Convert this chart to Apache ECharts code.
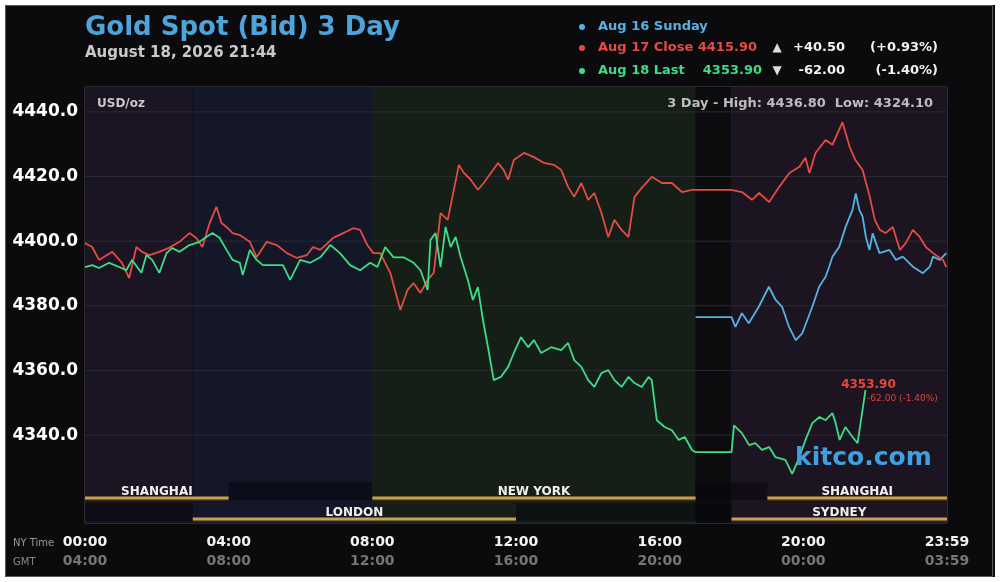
<!DOCTYPE html>
<html lang="en">
<head>
<meta charset="UTF-8">
<title>Gold Spot (Bid) 3 Day</title>
<script src="https://cdn.jsdelivr.net/npm/echarts@6.0.0/dist/echarts.min.js"></script>
<style>
  html, body { margin: 0; padding: 0; background: #fff; }
  #main { width: 1000px; height: 582px; }
</style>
</head>
<body>
<div id="main"></div>

<script type="text/javascript">
// axis ticks (hours, NY time)
var xTicks = [0, 4, 8, 12, 16, 20, 24];
var nyLabels = ['00:00', '04:00', '08:00', '12:00', '16:00', '20:00', '23:59'];
var gmtLabels = ['04:00', '08:00', '12:00', '16:00', '20:00', '00:00', '03:59'];
var yTicks = [4340, 4360, 4380, 4400, 4420, 4440];

// Aug 16 Sunday
var sunTimes = [17.00, 18.00, 18.11, 18.29, 18.48, 18.76, 19.04, 19.23, 19.41, 19.60,
  19.79, 19.97, 20.11, 20.25, 20.44, 20.62, 20.72, 20.81, 21.00, 21.18,
  21.37, 21.46, 21.56, 21.65, 21.74, 21.84, 21.93, 22.12, 22.40, 22.58,
  22.77, 23.05, 23.33, 23.52, 23.61, 23.80, 23.98];
var sunValues = [4376.5, 4376.5, 4373.5, 4377.7, 4374.6, 4379.7, 4385.9, 4381.8, 4379.7, 4373.5,
  4369.4, 4371.5, 4375.6, 4379.7, 4385.9, 4389.0, 4392.1, 4395.2, 4398.3, 4404.5,
  4409.7, 4414.8, 4409.7, 4407.6, 4401.4, 4397.3, 4402.4, 4396.3, 4397.3, 4394.2,
  4395.2, 4392.1, 4390.1, 4392.1, 4395.2, 4394.2, 4396.3];

// Aug 17
var closeTimes = [0.00, 0.20, 0.39, 0.76, 1.03, 1.23, 1.43, 1.59, 1.79, 2.07,
  2.35, 2.63, 2.91, 3.10, 3.27, 3.47, 3.66, 3.80, 3.94, 4.11,
  4.31, 4.59, 4.78, 5.06, 5.34, 5.62, 5.90, 6.18, 6.35, 6.55,
  6.91, 7.19, 7.47, 7.66, 7.86, 8.03, 8.22, 8.50, 8.78, 8.98,
  9.15, 9.34, 9.54, 9.71, 9.90, 10.10, 10.27, 10.41, 10.55, 10.74,
  10.94, 11.10, 11.30, 11.50, 11.66, 11.78, 11.94, 12.22, 12.50, 12.78,
  13.06, 13.26, 13.45, 13.62, 13.82, 14.01, 14.18, 14.38, 14.57, 14.74,
  14.94, 15.13, 15.30, 15.50, 15.78, 16.06, 16.34, 16.62, 16.90, 17.00,
  18.00, 18.29, 18.57, 18.77, 19.05, 19.33, 19.61, 19.89, 20.06, 20.17,
  20.34, 20.62, 20.81, 21.09, 21.29, 21.45, 21.65, 21.85, 21.99, 22.13,
  22.29, 22.49, 22.69, 22.85, 23.05, 23.24, 23.41, 23.61, 23.89, 23.98];
var closeValues = [4399.4, 4398.2, 4394.2, 4396.7, 4393.3, 4388.6, 4398.2, 4396.7, 4395.7, 4396.7,
  4398.0, 4399.8, 4402.5, 4401.0, 4398.2, 4405.6, 4410.6, 4405.6, 4404.4, 4402.5,
  4401.9, 4399.8, 4395.0, 4399.8, 4398.8, 4396.3, 4394.8, 4395.7, 4398.2, 4397.3,
  4401.0, 4402.5, 4404.0, 4403.5, 4398.8, 4396.3, 4396.3, 4390.2, 4378.7, 4384.9,
  4387.0, 4384.0, 4388.0, 4390.2, 4408.7, 4406.6, 4415.9, 4423.6, 4421.1, 4419.0,
  4415.9, 4418.0, 4421.1, 4424.2, 4422.0, 4419.0, 4425.1, 4427.3, 4426.0, 4424.2,
  4423.6, 4422.0, 4416.8, 4413.7, 4418.0, 4412.8, 4414.9, 4408.7, 4401.3, 4406.6,
  4403.5, 4401.3, 4413.7, 4416.5, 4419.9, 4418.0, 4418.0, 4415.2, 4415.9, 4415.9,
  4415.9, 4415.2, 4412.8, 4414.9, 4412.1, 4416.8, 4421.1, 4423.0, 4425.8, 4421.1,
  4427.3, 4431.3, 4429.8, 4436.8, 4429.2, 4425.1, 4422.0, 4413.7, 4406.6, 4403.5,
  4402.5, 4404.4, 4397.3, 4399.4, 4403.5, 4401.3, 4398.2, 4396.3, 4394.2, 4392.0];

// Aug 18 (last)
var lastTimes = [0.00, 0.20, 0.39, 0.67, 0.95, 1.15, 1.31, 1.57, 1.71, 1.87,
  2.07, 2.27, 2.43, 2.63, 2.91, 3.19, 3.38, 3.55, 3.75, 3.94,
  4.11, 4.31, 4.39, 4.59, 4.78, 4.95, 5.23, 5.51, 5.71, 5.99,
  6.27, 6.55, 6.83, 7.10, 7.38, 7.66, 7.94, 8.14, 8.36, 8.59,
  8.87, 9.15, 9.34, 9.54, 9.62, 9.76, 9.90, 10.04, 10.18, 10.32,
  10.46, 10.66, 10.80, 10.94, 11.08, 11.22, 11.38, 11.58, 11.78, 11.94,
  12.14, 12.34, 12.50, 12.70, 12.98, 13.26, 13.45, 13.62, 13.82, 14.01,
  14.18, 14.38, 14.57, 14.74, 14.94, 15.13, 15.30, 15.50, 15.69, 15.78,
  15.92, 16.14, 16.34, 16.53, 16.70, 16.90, 17.00, 18.00, 18.07, 18.29,
  18.49, 18.66, 18.85, 19.05, 19.22, 19.50, 19.69, 19.89, 20.06, 20.25,
  20.45, 20.62, 20.81, 20.90, 21.01, 21.17, 21.37, 21.51, 21.73];
var lastValues = [4392.0, 4392.6, 4391.7, 4393.3, 4392.0, 4391.0, 4394.2, 4390.2, 4395.7, 4394.2,
  4390.2, 4396.3, 4397.9, 4396.7, 4398.8, 4399.8, 4401.3, 4402.5, 4401.0, 4397.3,
  4394.2, 4393.3, 4389.5, 4397.3, 4394.2, 4392.6, 4392.6, 4392.6, 4388.0, 4394.2,
  4393.3, 4395.0, 4398.8, 4396.3, 4392.6, 4391.0, 4393.3, 4392.0, 4398.2, 4395.0,
  4395.0, 4393.3, 4391.0, 4384.9, 4400.4, 4402.5, 4392.0, 4404.4, 4398.2, 4401.3,
  4395.0, 4388.0, 4381.8, 4385.8, 4375.6, 4367.2, 4357.0, 4358.0, 4361.1, 4365.4,
  4370.3, 4367.2, 4369.4, 4365.4, 4367.2, 4366.3, 4368.5, 4363.2, 4361.1, 4357.0,
  4354.9, 4359.2, 4360.1, 4357.0, 4354.9, 4358.0, 4356.1, 4354.9, 4358.0, 4357.0,
  4344.6, 4342.5, 4341.5, 4338.5, 4339.4, 4335.4, 4334.7, 4334.7, 4343.0, 4340.6,
  4336.9, 4337.5, 4335.4, 4336.3, 4333.2, 4332.3, 4328.0, 4333.2, 4338.5, 4343.7,
  4345.6, 4344.6, 4346.8, 4343.7, 4338.5, 4342.5, 4339.4, 4337.5, 4353.9];

// trading sessions (hours NY time), row 0 = upper bar
var sessionNames = ['SHANGHAI', 'LONDON', 'NEW YORK', 'SYDNEY', 'SHANGHAI'];
var sessionStart = [0, 3, 8, 18, 19];
var sessionEnd = [4, 12, 17, 24, 24];
var sessionRow = [0, 1, 0, 1, 0];

// background bands
var bandStart = [0, 3, 8, 17, 18];
var bandEnd = [3, 8, 17, 18, 24];
var bandColors = ['#1b1523', '#131728', '#161f17', '#0c0c0e', '#1d1421'];

var FONT = '"DejaVu Sans", Verdana, sans-serif';
var Y_MIN = 4312.8, Y_MAX = 4447.7;

function pairs(t, v) {
  var out = [];
  for (var i = 0; i < Math.min(t.length, v.length); i++) out.push([t[i], v[i]]);
  return out;
}
function txt(x, y, s, color, font, align) {
  return { type: 'text', x: x, y: y, z: 50,
    style: { text: s, fill: color, font: font, align: align || 'left', textAlign: align || 'left',
      verticalAlign: 'middle', textVerticalAlign: 'middle' } };
}
// empty stretches of each session row (no session running)
function rowGaps() {
  var gaps = [];
  [0, 1].forEach(function (r) {
    var segs = [];
    for (var i = 0; i < sessionNames.length; i++) {
      if (sessionRow[i] === r) segs.push([sessionStart[i], sessionEnd[i]]);
    }
    segs.sort(function (a, b) { return a[0] - b[0]; });
    var cur = 0;
    segs.forEach(function (s) {
      if (s[0] > cur) gaps.push([cur, s[0], r]);
      cur = Math.max(cur, s[1]);
    });
    if (cur < 24) gaps.push([cur, 24, r]);
  });
  return gaps;
}

var lastT = lastTimes[lastTimes.length - 1];
var lastV = lastValues[lastValues.length - 1];

var myChart = echarts.init(document.getElementById('main'));
myChart.setOption({
  backgroundColor: '#0b0b0d',
  animation: false,
  grid: [
    { left: 85, right: 53, top: 87, bottom: 59, show: true, borderColor: '#4a4a50', borderWidth: 1, backgroundColor: 'transparent' },
    { left: 85, right: 53, top: 479, height: 42 }
  ],
  xAxis: [
    { type: 'value', gridIndex: 0, min: 0, max: 24, interval: 2,
      axisLine: { show: false }, axisTick: { show: false },
      splitLine: { show: true, lineStyle: { color: '#2b2b33', width: 1 } },
      axisLabel: {
        margin: 10,
        formatter: function (v) {
          var i = xTicks.indexOf(v);
          return i < 0 ? '' : '{a|' + nyLabels[i] + '}\n{b|' + gmtLabels[i] + '}';
        },
        rich: {
          a: { color: '#f4f4f4', fontFamily: FONT, fontWeight: 'bold', fontSize: 14, lineHeight: 19 },
          b: { color: '#767676', fontFamily: FONT, fontWeight: 'bold', fontSize: 14, lineHeight: 19 }
        }
      } },
    { type: 'value', gridIndex: 1, min: 0, max: 24, show: false }
  ],
  yAxis: [
    { type: 'value', gridIndex: 0, min: Y_MIN, max: Y_MAX, show: false, splitLine: { show: false } },
    { type: 'value', gridIndex: 1, min: 0, max: 2, inverse: true, show: false, splitLine: { show: false } }
  ],
  series: [
    { // background session bands
      type: 'custom', xAxisIndex: 0, yAxisIndex: 0, z: 0, silent: true,
      encode: { x: [0, 1] },
      data: bandStart.map(function (s, i) { return [s, bandEnd[i], i]; }),
      renderItem: function (params, api) {
        var cs = params.coordSys;
        var x0 = api.coord([api.value(0), Y_MIN])[0];
        var x1 = api.coord([api.value(1), Y_MIN])[0];
        return { type: 'rect', shape: { x: x0, y: cs.y, width: x1 - x0, height: cs.height },
          style: { fill: bandColors[api.value(2)] } };
      }
    },
    { // horizontal grid lines + y labels
      type: 'custom', xAxisIndex: 0, yAxisIndex: 0, z: 1, silent: true,
      encode: { x: 0, y: 1 },
      data: yTicks.map(function (v) { return [0, v]; }),
      renderItem: function (params, api) {
        var cs = params.coordSys;
        var y = api.coord([0, api.value(1)])[1];
        return { type: 'group', children: [
          { type: 'line', shape: { x1: cs.x, y1: y, x2: cs.x + cs.width, y2: y },
            style: { stroke: '#2b2b33', lineWidth: 1 } },
          { type: 'text', x: cs.x - 7, y: y,
            style: { text: api.value(1).toFixed(1), fill: '#ffffff', font: 'bold 17px ' + FONT,
              align: 'right', textAlign: 'right', verticalAlign: 'middle', textVerticalAlign: 'middle' } }
        ] };
      }
    },
    { // darker strips where a session row is idle
      type: 'custom', xAxisIndex: 1, yAxisIndex: 1, z: 2, silent: true,
      encode: { x: [0, 1], y: 2 },
      data: rowGaps(),
      renderItem: function (params, api) {
        var p0 = api.coord([api.value(0), api.value(2) + 0.15]);
        var p1 = api.coord([api.value(1), api.value(2) + 1.0]);
        return { type: 'rect', shape: { x: p0[0], y: p0[1], width: p1[0] - p0[0], height: p1[1] - p0[1] },
          style: { fill: 'rgba(6,8,14,0.55)' } };
      }
    },
    { name: 'Aug 16 Sunday', type: 'line', xAxisIndex: 0, yAxisIndex: 0, z: 3,
      data: pairs(sunTimes, sunValues), showSymbol: false, symbol: 'none',
      lineStyle: { color: '#52b4e4', width: 1.8 } },
    { name: 'Aug 17 Close', type: 'line', xAxisIndex: 0, yAxisIndex: 0, z: 3,
      data: pairs(closeTimes, closeValues), showSymbol: false, symbol: 'none',
      lineStyle: { color: '#e24c42', width: 1.8 } },
    { name: 'Aug 18 Last', type: 'line', xAxisIndex: 0, yAxisIndex: 0, z: 4,
      data: pairs(lastTimes, lastValues), showSymbol: false, symbol: 'none',
      lineStyle: { color: '#3ddc87', width: 1.8 },
      markPoint: {
        symbol: 'circle', symbolSize: 0, silent: true,
        data: [
          { coord: [lastT, lastV], label: { show: true, position: 'inside', offset: [3, -5],
              formatter: lastV.toFixed(2), color: '#e8463c', fontFamily: FONT, fontWeight: 'bold', fontSize: 12 } },
          { coord: [lastT, lastV], label: { show: true, position: 'inside', offset: [37, 8],
              formatter: '-62.00 (-1.40%)', color: '#d8453c', fontFamily: FONT, fontSize: 9 } }
        ]
      } },
    { // session bars
      type: 'custom', xAxisIndex: 1, yAxisIndex: 1, z: 5, silent: true,
      encode: { x: [0, 1], y: 2 },
      data: sessionNames.map(function (n, i) { return [sessionStart[i], sessionEnd[i], sessionRow[i], i]; }),
      renderItem: function (params, api) {
        var p0 = api.coord([api.value(0), api.value(2) + 0.9]);
        var p1 = api.coord([api.value(1), api.value(2) + 0.9]);
        return { type: 'group', children: [
          { type: 'rect', shape: { x: p0[0], y: p0[1] + 1.5, width: p1[0] - p0[0], height: 1.5 },
            style: { fill: '#3a2c14' } },
          { type: 'rect', shape: { x: p0[0], y: p0[1] - 1.5, width: p1[0] - p0[0], height: 3 },
            style: { fill: '#c9a24c' } },
          { type: 'text', x: (p0[0] + p1[0]) / 2, y: p0[1] - 6,
            style: { text: sessionNames[api.value(3)], fill: '#f0f0f0', font: 'bold 12px ' + FONT,
              align: 'center', textAlign: 'center', verticalAlign: 'middle', textVerticalAlign: 'middle' } }
        ] };
      }
    }
  ],
  graphic: [
    { type: 'rect', z: 100, silent: true, shape: { x: 0, y: 0, width: 1000, height: 582 },
      style: { fill: 'none', stroke: '#ffffff', lineWidth: 10 } },
    { type: 'rect', z: 101, silent: true, shape: { x: 5.5, y: 5.5, width: 987, height: 571 },
      style: { fill: 'none', stroke: '#5a5a5a', lineWidth: 1 } },
    txt(85, 28, 'Gold Spot (Bid) 3 Day', '#4ea4d9', 'bold 26px ' + FONT),
    txt(85, 53, 'August 18, 2026 21:44', '#c9c9c9', 'bold 15px ' + FONT),
    { type: 'circle', z: 50, shape: { cx: 582, cy: 27, r: 3 }, style: { fill: '#52b4e4' } },
    { type: 'circle', z: 50, shape: { cx: 582, cy: 48, r: 3 }, style: { fill: '#e24c42' } },
    { type: 'circle', z: 50, shape: { cx: 582, cy: 71, r: 3 }, style: { fill: '#3ddc87' } },
    txt(598, 27, 'Aug 16 Sunday', '#52b4e4', 'bold 13px ' + FONT),
    txt(598, 48, 'Aug 17 Close 4415.90', '#e24c42', 'bold 13px ' + FONT),
    txt(777, 48, '\u25B2', '#dddddd', 'bold 12px ' + FONT, 'center'),
    txt(845, 48, '+40.50', '#f2f2f2', 'bold 13px ' + FONT, 'right'),
    txt(938, 48, '(+0.93%)', '#f2f2f2', 'bold 13px ' + FONT, 'right'),
    txt(598, 71, 'Aug 18 Last', '#3ddc87', 'bold 13px ' + FONT),
    txt(762, 71, '4353.90', '#3ddc87', 'bold 13px ' + FONT, 'right'),
    txt(777, 71, '\u25BC', '#dddddd', 'bold 12px ' + FONT, 'center'),
    txt(845, 71, '-62.00', '#f2f2f2', 'bold 13px ' + FONT, 'right'),
    txt(938, 71, '(-1.40%)', '#f2f2f2', 'bold 13px ' + FONT, 'right'),
    txt(97, 104, 'USD/oz', '#c8c8c8', 'bold 12px ' + FONT),
    txt(933, 104, '3 Day - High: 4436.80  Low: 4324.10', '#bdbdbd', 'bold 13px ' + FONT, 'right'),
    txt(795, 458, 'kitco.com', '#3f9fe0', 'bold 25px ' + FONT),
    txt(13, 543, 'NY Time', '#9a9a9a', '10px ' + FONT),
    txt(13, 562, 'GMT', '#8a8a8a', '10px ' + FONT)
  ]
});
</script>
</body>
</html>
